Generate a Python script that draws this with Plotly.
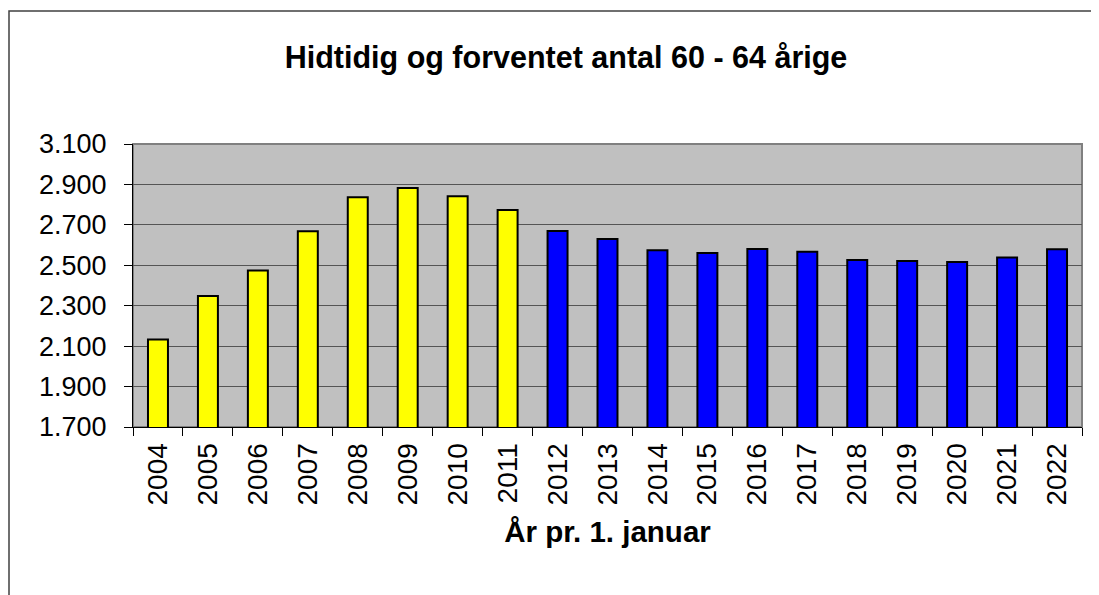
import plotly.graph_objects as go

###############################################################################
# Data

years = ['2004', '2005', '2006', '2007', '2008', '2009', '2010', '2011', '2012', '2013',
         '2014', '2015', '2016', '2017', '2018', '2019', '2020', '2021', '2022']
antal = [2133, 2348, 2474, 2668, 2837, 2882, 2841, 2773, 2669, 2630,
         2574, 2561, 2580, 2567, 2526, 2521, 2516, 2539, 2579]
hidtidig_years = ['2004', '2005', '2006', '2007', '2008', '2009', '2010', '2011']

y_ticks = [1700, 1900, 2100, 2300, 2500, 2700, 2900, 3100]

###############################################################################
# Figure

FONT = "Arial, 'Liberation Sans', sans-serif"

colors = ['#FFFF00' if y in hidtidig_years else '#0000FF' for y in years]

fig = go.Figure(
    data=[
        go.Bar(
            x=years,
            y=antal,
            width=0.4,
            showlegend=False,
            marker=dict(
                color=colors,
                line=dict(color='black', width=2)
            )
        )
    ]
)

# the page body adds an 8px offset, so the figure is 8px smaller
OFF = 8
W, H = 1099 - OFF, 595 - OFF
L, T = 133 - OFF, 144 - OFF
pw, ph = 949, 283
R, B = W - L - pw, H - T - ph

fig.update_layout(
    width=W,
    height=H,
    margin=dict(l=L, r=R, t=T, b=B, autoexpand=False),
    paper_bgcolor='white',
    plot_bgcolor='#C0C0C0',
    separators=',.',
    font=dict(family=FONT, color='black'),
    title=dict(
        text='<b>Hidtidig og forventet antal 60 - 64 årige</b>',
        font=dict(size=30.5, family=FONT, color='black'),
        x=(566 - OFF) / W,
        xanchor='center',
        y=1 - (57 - OFF) / H,
        yanchor='middle',
    ),
    shapes=[
        # plot area border
        dict(type='rect', xref='paper', yref='paper', x0=0, x1=1, y0=0, y1=1,
             line=dict(color='#808080', width=2), layer='below'),
        # chart frame
        dict(type='rect', xref='paper', yref='paper',
             x0=(1 - L) / pw, x1=(W + 20 - L) / pw,
             y0=-(H + 20 - (T + ph)) / ph, y1=(T + ph - (11 - OFF)) / ph,
             line=dict(color='#404040', width=1.5)),
    ],
)

fig.update_xaxes(
    type='category',
    tickangle=-90,
    tickfont=dict(size=28, family=FONT),
    ticks='outside',
    tickson='boundaries',
    ticklen=8,
    tickcolor='black',
    ticklabelstandoff=4,
    showline=True,
    linecolor='black',
    linewidth=1,
    showgrid=False,
    title=dict(text='<b>År pr. 1. januar</b>', font=dict(size=29.5, family=FONT), standoff=16),
)

fig.update_yaxes(
    range=[1700, 3100],
    tickvals=y_ticks,
    tickformat=',d',
    tickfont=dict(size=27, family=FONT),
    ticks='outside',
    ticklen=8,
    tickcolor='black',
    ticklabelstandoff=12,
    showline=True,
    linecolor='black',
    linewidth=1,
    showgrid=True,
    gridcolor='#555555',
    gridwidth=1,
    zeroline=False,
)

fig.write_html("out.html")
